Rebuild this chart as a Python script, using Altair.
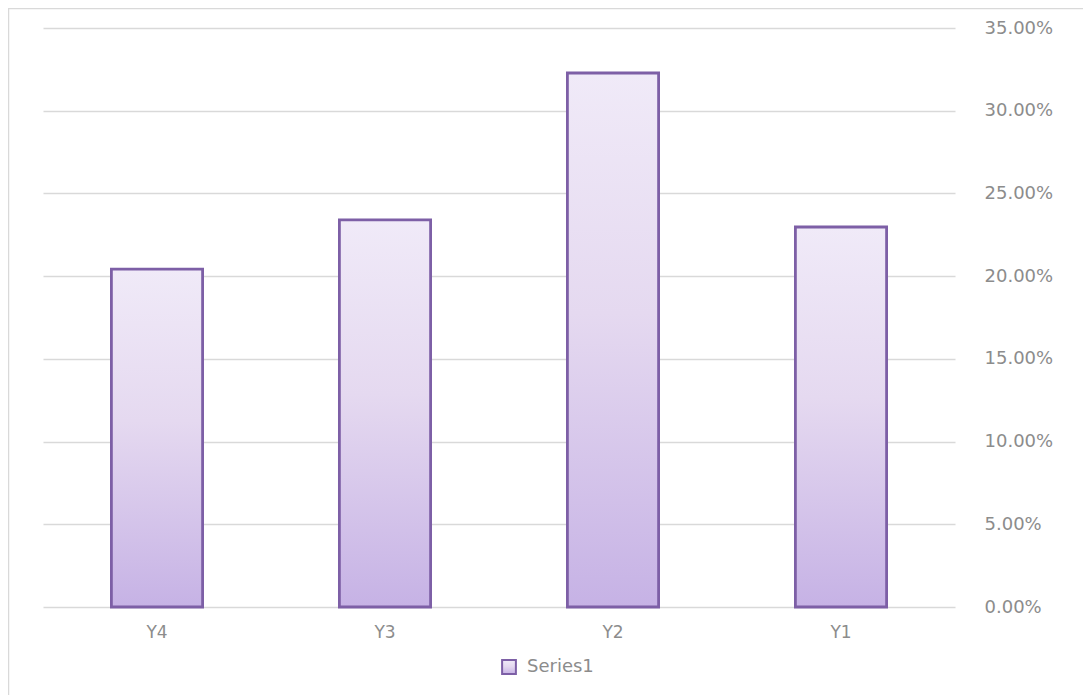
import altair as alt
import pandas as pd

categories = ["Y4", "Y3", "Y2", "Y1"]
values = [0.2043, 0.2340, 0.3228, 0.2297]
series = ["Series1"] * 4

df = pd.DataFrame({"cat": categories, "val": values, "series": series})

FONT = "DejaVu Sans"
GRAY = "#8c8c8c"

grad = alt.Gradient(
    gradient="linear",
    stops=[
        alt.GradientStop(color="#f0eaf8", offset=0),
        alt.GradientStop(color="#e5d9f0", offset=0.45),
        alt.GradientStop(color="#c6b2e5", offset=1),
    ],
    x1=0, x2=0, y1=0, y2=1,
)

bars = alt.Chart(df).mark_bar(fill=grad, strokeWidth=2.8).encode(
    x=alt.X("cat:N", sort=categories,
            scale=alt.Scale(paddingInner=0.6, paddingOuter=0.3),
            axis=alt.Axis(title=None, labelAngle=0, labelFont=FONT, labelFontSize=17,
                          labelColor=GRAY, labelPadding=17, domain=False, ticks=False, grid=False)),
    y=alt.Y("val:Q", scale=alt.Scale(domain=[0, 0.35], nice=False),
            axis=alt.Axis(title=None, orient="right", format=".2%", values=[0, 0.05, 0.1, 0.15, 0.2, 0.25, 0.3, 0.35],
                          labelFont=FONT, labelFontSize=18, labelColor=GRAY, labelPadding=29,
                          labelAlign="left", domain=False, ticks=False,
                          grid=True, gridColor="#d9d9d9", gridWidth=1.5)),
    stroke=alt.Stroke("series:N", scale=alt.Scale(range=["#7d5fa6"]),
                      legend=alt.Legend(title=None, orient="none", legendX=457, legendY=630,
                                        symbolType="square", symbolSize=190, symbolStrokeWidth=2,
                                        symbolFillColor="#ddd2f0", labelFont=FONT, labelFontSize=18,
                                        labelColor=GRAY, labelOffset=9)),
)

border = alt.Chart(pd.DataFrame({"a": [0]})).mark_rule(color="#d9d9d9", strokeWidth=2.5, clip=False).encode(
    x=alt.value(-35), x2=alt.value(1100), y=alt.value(-20)
) + alt.Chart(pd.DataFrame({"a": [0]})).mark_rule(color="#d9d9d9", strokeWidth=2.5, clip=False).encode(
    x=alt.value(-35), y=alt.value(-20), y2=alt.value(720)
)

chart = (border + bars).properties(
    width=912, height=579,
    padding={"left": 35, "top": 20, "right": 128, "bottom": 100},
    autosize=alt.AutoSizeParams(type="none"),
    background="white",
).configure_view(stroke=None)

chart.save("out.html", embed_options={"renderer": "svg", "actions": False})
